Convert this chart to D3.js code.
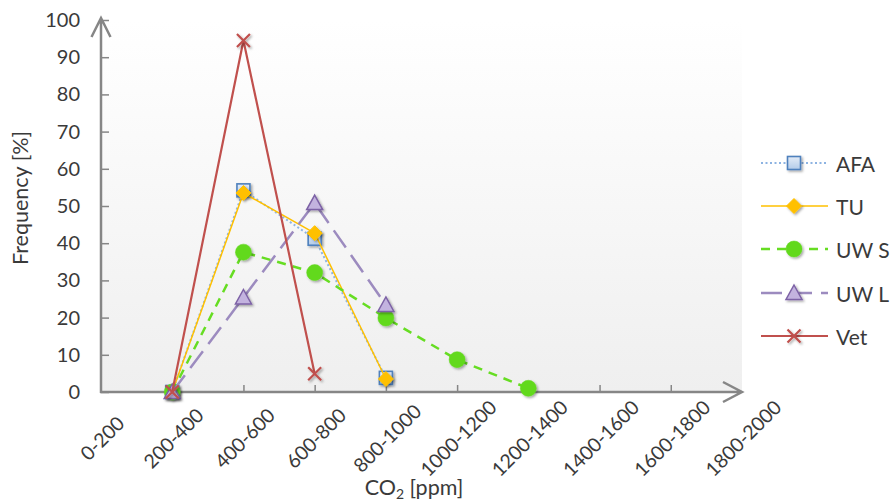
<!DOCTYPE html>
<html>
<head>
<meta charset="utf-8">
<script src="https://cdn.jsdelivr.net/npm/d3@7"></script>
<style>
  body { margin: 0; background: #fff; }
  svg { display: block; font-family: Lato, "Open Sans", sans-serif; }
</style>
</head>
<body>
<svg id="chart" width="892" height="504"></svg>
<script>
// CO2 concentration classes [ppm]
const categories = ["0-200", "200-400", "400-600", "600-800", "800-1000",
                    "1000-1200", "1200-1400", "1400-1600", "1600-1800", "1800-2000"];

// Frequency [%] per class for each building
const afa  = [null, 0, 54.2, 41.2, 3.8, null, null, null, null, null];
const tu   = [null, 0, 53.5, 42.7, 3.5, null, null, null, null, null];
const uwS  = [null, 0, 37.6, 32.1, 19.9, 8.7, 1.0, null, null, null];
const uwL  = [null, 0, 25.4, 50.8, 23.4, null, null, null, null, null];
const vet  = [null, 0, 94.5, 4.9, null, null, null, null, null, null];

const yTicks = [0, 10, 20, 30, 40, 50, 60, 70, 80, 90, 100];

const series = [
  { name: "AFA",  values: afa, line: "#8db3e2", width: 2,   dash: "2 2.5", marker: "square" },
  { name: "TU",   values: tu,  line: "#ffc000", width: 1.5, dash: null,    marker: "diamond" },
  { name: "UW S", values: uwS, line: "#66dd22", width: 2.5, dash: "9 7",   marker: "circle" },
  { name: "UW L", values: uwL, line: "#9c8bbf", width: 2.5, dash: "21 9",  marker: "triangle" },
  { name: "Vet",  values: vet, line: "#c0504d", width: 2.2, dash: null,    marker: "cross" }
];

const svg = d3.select("#chart");
const plotLeft = 101, plotRight = 742, plotTop = 20, plotBottom = 392;

const x = d3.scalePoint().domain(categories).range([plotLeft, plotRight]).padding(0);
const y = d3.scaleLinear().domain([0, 100]).range([plotBottom, plotTop]);

const defs = svg.append("defs");
const bg = defs.append("linearGradient").attr("id", "plotBg")
  .attr("x1", 0).attr("y1", 0).attr("x2", 0).attr("y2", 1);
bg.append("stop").attr("offset", "0%").attr("stop-color", "#ffffff");
bg.append("stop").attr("offset", "100%").attr("stop-color", "#efefef");

const sq = defs.append("linearGradient").attr("id", "sqFill")
  .attr("x1", 0).attr("y1", 0).attr("x2", 0).attr("y2", 1);
sq.append("stop").attr("offset", "0%").attr("stop-color", "#e4ecf7");
sq.append("stop").attr("offset", "100%").attr("stop-color", "#b3cbe9");

const shadow = defs.append("filter").attr("id", "shadow")
  .attr("x", "-50%").attr("y", "-50%").attr("width", "200%").attr("height", "200%");
shadow.append("feDropShadow").attr("dx", 1.5).attr("dy", 1.5).attr("stdDeviation", 1.3)
  .attr("flood-color", "#000").attr("flood-opacity", 0.35);

// plot area background
svg.append("rect")
  .attr("x", plotLeft).attr("y", plotTop)
  .attr("width", plotRight - plotLeft).attr("height", plotBottom - plotTop)
  .attr("fill", "url(#plotBg)");

const axisColor = "#868686";
const textColor = "#3a3a3a";

// y axis ticks and labels
const yAxis = svg.append("g")
  .attr("transform", `translate(${plotLeft},0)`)
  .call(d3.axisLeft(y).tickValues(yTicks).tickFormat(d3.format("d"))
    .tickSizeInner(-8).tickSizeOuter(0).tickPadding(21));
yAxis.select(".domain").remove();
yAxis.selectAll(".tick line").attr("stroke", axisColor).attr("stroke-width", 1.5);
yAxis.selectAll(".tick text")
  .attr("fill", textColor).style("font-size", "20px").style("font-family", "Lato, sans-serif");

// x axis ticks
const xAxis = svg.append("g")
  .attr("transform", `translate(0,${plotBottom})`)
  .call(d3.axisBottom(x).tickValues(categories.slice(1, -1))
    .tickSizeInner(-7).tickSizeOuter(0).tickFormat(""));
xAxis.select(".domain").remove();
xAxis.selectAll(".tick line").attr("stroke", axisColor).attr("stroke-width", 1.5);

// rotated category labels
svg.append("g").selectAll("text")
  .data(categories)
  .join("text")
  .attr("transform", d => `translate(${x(d) + 1},438) rotate(-45)`)
  .attr("text-anchor", "middle")
  .attr("dominant-baseline", "central")
  .attr("fill", textColor)
  .style("font-size", "19.5px")
  .text(d => d);

// axis lines with open arrow heads
svg.append("path")
  .attr("d", `M${plotLeft},${plotBottom + 1}V${plotTop - 2}M${plotLeft - 9.5},${plotTop + 17}L${plotLeft},${plotTop - 2}L${plotLeft + 9.5},${plotTop + 17}`)
  .attr("fill", "none").attr("stroke", axisColor).attr("stroke-width", 2.5);
svg.append("path")
  .attr("d", `M${plotLeft - 1},${plotBottom}H${plotRight}M${plotRight - 19},${plotBottom - 10}L${plotRight},${plotBottom}L${plotRight - 19},${plotBottom + 10}`)
  .attr("fill", "none").attr("stroke", axisColor).attr("stroke-width", 2.5);

// marker drawing
function marker(sel, type) {
  if (type === "square") {
    sel.append("rect").attr("x", -6.5).attr("y", -6.5).attr("width", 13).attr("height", 13)
      .attr("fill", "url(#sqFill)").attr("stroke", "#4f81bd").attr("stroke-width", 1.6);
  } else if (type === "diamond") {
    sel.append("path").attr("d", "M0,-7.5L7.5,0L0,7.5L-7.5,0Z")
      .attr("fill", "#ffc000").attr("stroke", "#ffc000").attr("stroke-width", 1);
  } else if (type === "circle") {
    sel.append("circle").attr("r", 8).attr("fill", "#62d91f").attr("stroke", "#62d91f").attr("stroke-width", 0.5);
  } else if (type === "triangle") {
    sel.append("path").attr("d", "M0,-8L8,6.5L-8,6.5Z")
      .attr("fill", "#c3b3df").attr("stroke", "#7d62a6").attr("stroke-width", 1.5);
  } else if (type === "cross") {
    sel.append("path").attr("d", "M-6.5,-6.5L6.5,6.5M-6.5,6.5L6.5,-6.5")
      .attr("fill", "none").attr("stroke", "#c0504d").attr("stroke-width", 2.2);
  }
}

const line = d3.line()
  .defined(d => d.v !== null)
  .x(d => x(d.c))
  .y(d => y(d.v));

series.forEach(s => {
  const pts = s.values.map((v, i) => ({ c: categories[i], v }));
  const g = svg.append("g");
  g.append("path")
    .datum(pts)
    .attr("d", line)
    .attr("fill", "none")
    .attr("stroke", s.line)
    .attr("stroke-width", s.width)
    .attr("stroke-dasharray", s.dash)
    .attr("stroke-linejoin", "round");
  g.selectAll("g.pt")
    .data(pts.filter(d => d.v !== null))
    .join("g")
    .attr("class", "pt")
    .attr("filter", "url(#shadow)")
    .attr("transform", d => `translate(${x(d.c)},${y(d.v)})`)
    .each(function () { marker(d3.select(this), s.marker); });
});

// legend
const legendRows = [163, 206, 249, 293, 336];
const legend = svg.append("g");
series.forEach((s, i) => {
  const row = legend.append("g").attr("transform", `translate(0,${legendRows[i]})`);
  row.append("line")
    .attr("x1", 761).attr("x2", 828).attr("y1", 0).attr("y2", 0)
    .attr("stroke", s.line).attr("stroke-width", s.width)
    .attr("stroke-dasharray", s.dash);
  const m = row.append("g").attr("transform", "translate(794,0)").attr("filter", "url(#shadow)");
  marker(m, s.marker);
  row.append("text")
    .attr("x", 836).attr("y", 0)
    .attr("dominant-baseline", "central")
    .attr("fill", textColor)
    .style("font-size", "21px")
    .text(s.name);
});

// axis titles
svg.append("text")
  .attr("transform", "translate(20,198) rotate(-90)")
  .attr("text-anchor", "middle")
  .attr("dominant-baseline", "central")
  .attr("fill", textColor)
  .style("font-size", "21.5px")
  .text("Frequency [%]");

const xTitle = svg.append("text")
  .attr("x", 414).attr("y", 495)
  .attr("text-anchor", "middle")
  .attr("fill", textColor)
  .style("font-size", "21.5px");
xTitle.append("tspan").text("CO");
xTitle.append("tspan").attr("dy", 4).style("font-size", "14px").text("2");
xTitle.append("tspan").attr("dy", -4).text(" [ppm]");
</script>
</body>
</html>
